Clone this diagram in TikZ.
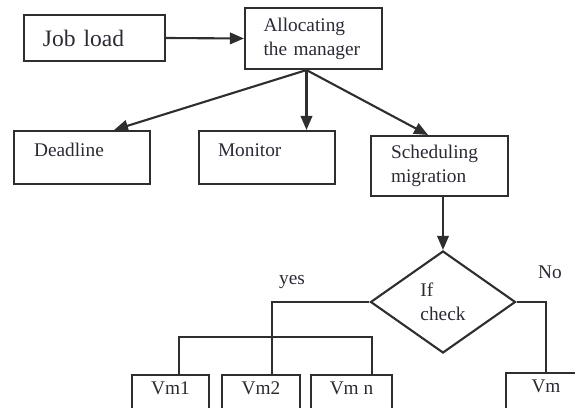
\documentclass[tikz,border=0pt]{standalone}
\usepackage{fontspec}
\setmainfont{Liberation Serif}
\usepackage{tikz}
\usetikzlibrary{positioning,shapes.geometric,arrows.meta}
\definecolor{linegray}{HTML}{2E2E2E}
\definecolor{textgray}{HTML}{2A2A36}
\tikzset{
  procbox/.style={draw=linegray, line width=1.2pt, align=left, inner ysep=1mm, text=textgray, font=\fontsize{11}{13.6}\selectfont},
  topbox/.style={procbox, anchor=north west, text height=4mm, text depth=4.6mm},
  vmbox/.style={procbox, anchor=north, align=center, inner xsep=0pt, text height=2.8mm, text depth=6mm},
  checkbox/.style={draw=linegray, line width=1.2pt, diamond, inner sep=0pt, align=left, text=textgray, font=\fontsize{11}{13.6}\selectfont},
  branchlabel/.style={text=textgray, font=\fontsize{11}{13.6}\selectfont},
  arrow/.style={-{Triangle[length=2.8mm,width=2.3mm]}, line width=1.2pt, draw=linegray},
  wire/.style={line width=1.2pt, draw=linegray}
}

\begin{document}
\begin{tikzpicture}[x=0.2mm, y=-0.2mm]
  \useasboundingbox (0,0) rectangle (575,408);
  \clip (0,0) rectangle (575,408);

  \node[procbox, text width=20.6mm, inner xsep=3.8mm, minimum height=9.2mm, font=\fontsize{13.4}{16}\selectfont] (jobload) at (94.5,38) {Job load};
  \node[procbox, text width=20mm, inner xsep=3.7mm, minimum height=12.2mm] (alloc) at (313.5,38.5) {Allocating\\the manager};

  \node[topbox, text width=19.2mm, inner xsep=4mm] (deadline) at (13,130) {Deadline};
  \node[topbox, text width=19.6mm, inner xsep=3.8mm] (monitor) at (198,130) {Monitor};
  \node[procbox, anchor=north west, text width=19.4mm, inner xsep=4mm, minimum height=12mm] (sched) at (370,135) {Scheduling\\migration};

  \node[checkbox, minimum width=29mm, minimum height=20.4mm] (ifcheck) at (443,302) {If\\check};

  \node[vmbox, minimum width=15.4mm] (vm1) at (170.5,374) {Vm1};
  \node[vmbox, minimum width=15.6mm] (vm2) at (261,374) {Vm2};
  \node[vmbox, minimum width=16.2mm] (vmn) at (351.5,374) {Vm n};
  \node[vmbox, minimum width=16mm] (vm) at (546,372) {Vm};

  \node[branchlabel] (yes) at (292,282) {yes};
  \node[branchlabel] (no) at (550,272) {No};

  % top part
  \draw[arrow] (jobload.east) -- (alloc.west);
  \coordinate (split) at ([xshift=-1.4mm]alloc.south);
  \draw[arrow] (split) -- ([xshift=6.4mm]deadline.north);
  \draw[arrow] (split) -- (split |- monitor.north);
  \draw[arrow] (split) -- ([xshift=-2.3mm]sched.north);
  \draw[arrow] (ifcheck.north |- sched.south) -- (ifcheck.north);

  % branches
  \draw[wire] (ifcheck.west) -| ([xshift=2.2mm]vm2.north);
  \draw[wire] ([xshift=1.7mm]vm1.north) -- ++(0,-37) -| ([xshift=4.1mm]vmn.north);
  \draw[wire] (ifcheck.east) -| (vm.north);
\end{tikzpicture}
\end{document}
